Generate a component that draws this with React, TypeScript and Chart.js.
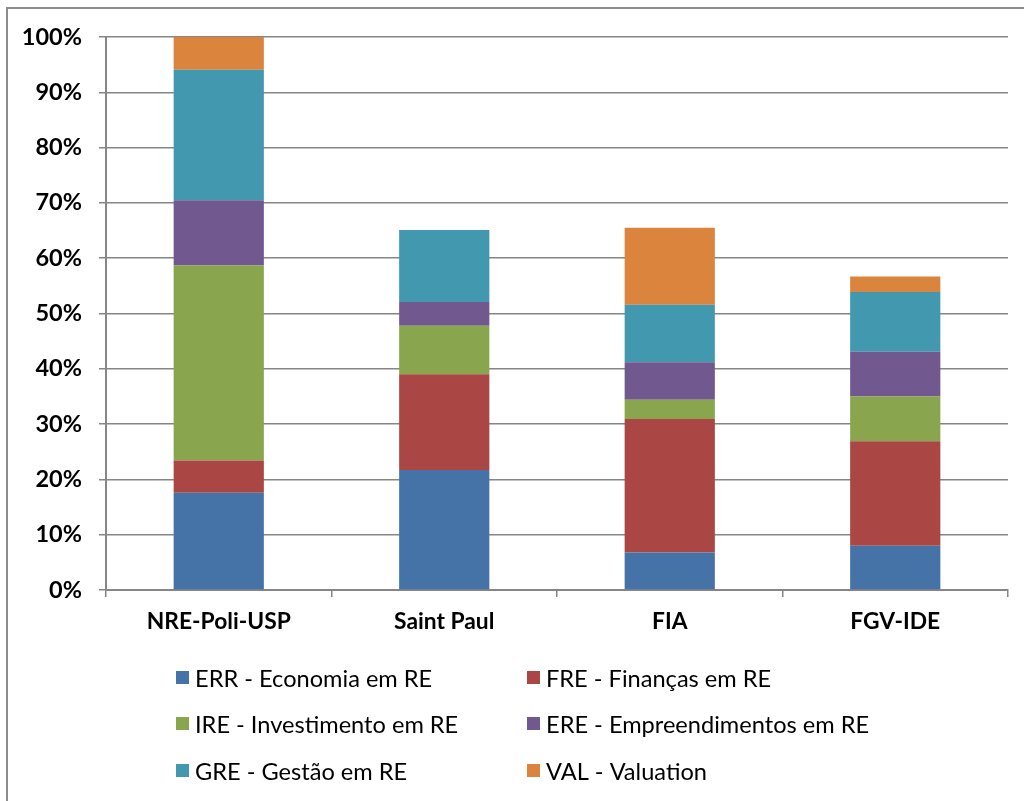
import React, { useEffect, useRef } from "react";
import { Chart, registerables } from "chart.js";

Chart.register(...registerables);

const categories = ["NRE-Poli-USP", "Saint Paul", "FIA", "FGV-IDE"];
const seriesNames = [
  "ERR - Economia em RE",
  "FRE - Finanças em RE",
  "IRE - Investimento em RE",
  "ERE - Empreendimentos em RE",
  "GRE - Gestão em RE",
  "VAL - Valuation",
];
const errValues = [17.6, 21.7, 6.8, 8.0];
const freValues = [5.8, 17.3, 24.1, 18.9];
const ireValues = [35.3, 8.8, 3.5, 8.1];
const ereValues = [11.8, 4.3, 6.8, 8.1];
const greValues = [23.6, 13.0, 10.4, 10.8];
const valValues = [5.9, 0, 13.9, 2.8];
const seriesColors = ["#4572A7", "#AA4643", "#89A54E", "#71588F", "#4198AF", "#DB843D"];
const yTicks = [0, 10, 20, 30, 40, 50, 60, 70, 80, 90, 100];

const FONT = "Lato, 'Open Sans', sans-serif";

const legendPlugin = {
  id: "gridLegend",
  afterDraw(chart: any) {
    const ctx = chart.ctx;
    const cols = [176, 527];
    const rows = [678, 724, 771];
    ctx.save();
    ctx.font = `23.6px ${FONT}`;
    ctx.textBaseline = "middle";
    ctx.fillStyle = "#000";
    chart.data.datasets.forEach((ds: any, i: number) => {
      const x = cols[i % 2];
      const y = rows[Math.floor(i / 2)];
      ctx.fillStyle = ds.backgroundColor;
      ctx.fillRect(x, y - 7, 13, 13);
      ctx.fillStyle = "#000";
      ctx.fillText(ds.label, x + 19, y + 1);
    });
    ctx.restore();
  },
};

export default function App() {
  const ref = useRef<HTMLCanvasElement | null>(null);
  useEffect(() => {
    document.body.style.overflow = "hidden";
    const allValues = [errValues, freValues, ireValues, ereValues, greValues, valValues];
    const chart = new Chart(ref.current!, {
      type: "bar",
      data: {
        labels: categories,
        datasets: seriesNames.map((name, i) => ({
          label: name,
          data: allValues[i],
          backgroundColor: seriesColors[i],
          borderWidth: 0,
          barPercentage: 0.4,
          categoryPercentage: 1,
        })),
      },
      options: {
        animation: false,
        responsive: false,
        maintainAspectRatio: false,
        layout: { padding: { left: 0, right: 16, top: 37, bottom: 150 } },
        plugins: {
          legend: { display: false },
          tooltip: { enabled: false },
        },
        scales: {
          x: {
            stacked: true,
            grid: {
              drawOnChartArea: false,
              tickLength: 7,
              color: "#868686",
              lineWidth: 1.5,
              offset: true,
            },
            border: { color: "#868686", width: 2 },
            ticks: {
              color: "#000",
              font: { family: FONT, size: 22.8, weight: "bold" },
              padding: 11,
              maxRotation: 0,
            },
            afterFit(scale: any) {
              scale.height = 61;
            },
          },
          y: {
            stacked: true,
            min: 0,
            max: 100,
            afterBuildTicks(scale: any) {
              scale.ticks = yTicks.map((v) => ({ value: v }));
            },
            grid: {
              color: "#868686",
              lineWidth: 1.5,
              tickLength: 7,
            },
            border: { color: "#868686", width: 2 },
            ticks: {
              color: "#000",
              font: { family: FONT, size: 23.5, weight: "bold" },
              padding: 17,
              callback: (v: any) => `${v}%`,
            },
            afterFit(scale: any) {
              scale.width = 106;
            },
          },
        },
      },
      plugins: [legendPlugin],
    });
    return () => chart.destroy();
  }, []);
  return (
    <div style={{ position: "fixed", left: 0, top: 0, width: 1024, height: 801, overflow: "hidden", background: "#fff" }}>
      <div
        style={{
          position: "absolute",
          left: 6,
          top: 7,
          width: 1100,
          height: 900,
          border: "2px solid #8c8c8c",
          boxSizing: "border-box",
        }}
      />
      <canvas ref={ref} width={1024} height={801} style={{ position: "absolute", left: 0, top: 0 }} />
    </div>
  );
}
